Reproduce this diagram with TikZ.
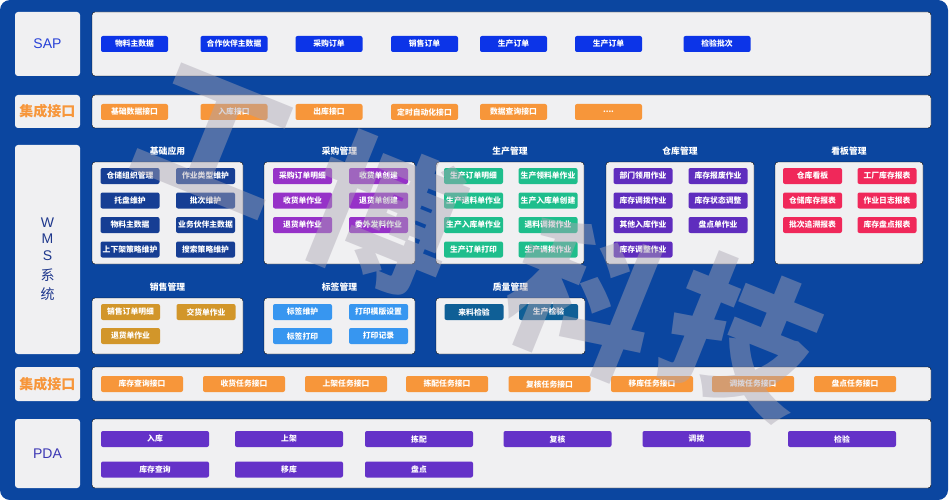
\documentclass[tikz,border=0pt]{standalone}
\usepackage{fontspec}
\setmainfont{Liberation Sans}
\newfontfamily\cjk{Noto Sans CJK SC}
\usepackage{tikz}

\definecolor{bgblue}{RGB}{11,70,160}
\definecolor{panelgray}{RGB}{240,240,242}
\definecolor{sapblue}{RGB}{12,52,232}
\definecolor{ifaceorange}{RGB}{247,150,58}
\definecolor{basenavy}{RGB}{22,62,148}
\definecolor{buymagenta}{RGB}{150,50,200}
\definecolor{prodgreen}{RGB}{30,190,140}
\definecolor{stockindigo}{RGB}{95,45,190}
\definecolor{boardred}{RGB}{240,40,90}
\definecolor{salesgold}{RGB}{210,150,42}
\definecolor{labelblue}{RGB}{55,150,240}
\definecolor{qualteal}{RGB}{15,95,150}
\definecolor{pdapurple}{RGB}{100,50,200}
\definecolor{saptext}{RGB}{40,65,215}
\definecolor{pdatext}{RGB}{60,55,180}
\definecolor{wmstext}{RGB}{30,55,140}
\definecolor{wmgray}{RGB}{170,165,178}

\tikzset{
  panel/.style={fill=panelgray, rounded corners=3pt},
  sidebox/.style={fill=panelgray, rounded corners=3pt, inner sep=0pt, minimum width=65},
  chip/.style={fill=#1, rounded corners=2pt, text=white, inner sep=0pt, minimum height=16,
    font=\cjk\bfseries\fontsize{7.8}{8}\selectfont},
  topchip/.style={chip=#1, minimum width=67},
  groupchip/.style={chip=#1, minimum width=59},
  taskchip/.style={chip=ifaceorange, minimum width=82},
  pdachip/.style={chip=pdapurple, minimum width=108},
  grouptitle/.style={text=white, font=\cjk\bfseries\fontsize{8.8}{9}\selectfont},
  ifacetitle/.style={text=ifaceorange, font=\cjk\bfseries\fontsize{14}{14}\selectfont},
  wmark/.style={text=wmgray, opacity=0.45, rotate=-22, font=\cjk\bfseries\fontsize{150}{150}\selectfont}
}

\begin{document}
\begin{tikzpicture}[x=1pt,y=1pt,yscale=-1]
\useasboundingbox (0,0) rectangle (950,500);
\fill[white] (0,0) rectangle (950,500);
\fill[bgblue, rounded corners=10pt] (0,0) rectangle (948,500);

%SAP row
\node[sidebox, minimum height=64, text=saptext, font=\fontsize{14}{14}\selectfont] (sap) at (47.5,44) {SAP};
\draw[panel] (92,12) rectangle (931,76);
\node[topchip=sapblue] (sap1) at (134.5,44) {物料主数据};
\node[topchip=sapblue] (sap2) at (234,44) {合作伙伴主数据};
\node[topchip=sapblue] (sap3) at (329,44) {采购订单};
\node[topchip=sapblue] (sap4) at (424.5,44) {销售订单};
\node[topchip=sapblue] (sap5) at (513.5,44) {生产订单};
\node[topchip=sapblue] (sap6) at (608.5,44) {生产订单};
\node[topchip=sapblue] (sap7) at (717,44) {检验批次};

%integration row (top)
\node[sidebox, minimum height=33, ifacetitle] (iftop) at (47.5,111.5) {集成接口};
\draw[panel] (92,95) rectangle (931,128);
\node[topchip=ifaceorange] (ift1) at (134.5,112) {基础数据接口};
\node[topchip=ifaceorange] (ift2) at (234,112) {入库接口};
\node[topchip=ifaceorange] (ift3) at (329,112) {出库接口};
\node[topchip=ifaceorange] (ift4) at (424.5,112) {定时自动化接口};
\node[topchip=ifaceorange] (ift5) at (513.5,112) {数据查询接口};
\node[topchip=ifaceorange] (ift6) at (608.5,112) {....};

%WMS
\node[sidebox, minimum height=209] (wms) at (47.5,249.5) {};
\node[text=wmstext, align=center, inner sep=0pt, font=\fontsize{14}{16.5}\selectfont] (wmsname) at (47.5,259)
  {W\\M\\S\\[4pt]{\cjk 系}\\[2pt]{\cjk 统}};

% Text Node
\node[grouptitle] (t1) at (167.5,151) {基础应用};
\node[grouptitle] (t2) at (339.5,151) {采购管理};
\node[grouptitle] (t3) at (510,151) {生产管理};
\node[grouptitle] (t4) at (680,151) {仓库管理};
\node[grouptitle] (t5) at (849,151) {看板管理};
\node[grouptitle] (t6) at (167.5,287) {销售管理};
\node[grouptitle] (t7) at (339.5,287) {标签管理};
\node[grouptitle] (t8) at (510.5,287) {质量管理};

\draw[panel] (92,162) rectangle (243,264);
\draw[panel] (264,162) rectangle (415,264);
\draw[panel] (436,162) rectangle (584,264);
\draw[panel] (606,162) rectangle (754,264);
\draw[panel] (775,162) rectangle (923,264);
\draw[panel] (92,298) rectangle (243,354);
\draw[panel] (264,298) rectangle (415,354);
\draw[panel] (436,298) rectangle (585,354);

%basic application
\node[groupchip=basenavy] (ba1) at (130,176) {仓储组织管理};
\node[groupchip=basenavy] (ba2) at (205.5,176) {作业类型维护};
\node[groupchip=basenavy] (ba3) at (130,200.5) {托盘维护};
\node[groupchip=basenavy] (ba4) at (205.5,200.5) {批次维护};
\node[groupchip=basenavy] (ba5) at (130,225) {物料主数据};
\node[groupchip=basenavy] (ba6) at (205.5,225) {业务伙伴主数据};
\node[groupchip=basenavy] (ba7) at (130,249.5) {上下架策略维护};
\node[groupchip=basenavy] (ba8) at (205.5,249.5) {搜索策略维护};

%purchasing
\node[groupchip=buymagenta] (pu1) at (302.5,176) {采购订单明细};
\node[groupchip=buymagenta] (pu2) at (378.5,176) {收货单创建};
\node[groupchip=buymagenta] (pu3) at (302.5,200.5) {收货单作业};
\node[groupchip=buymagenta] (pu4) at (378.5,200.5) {退货单创建};
\node[groupchip=buymagenta] (pu5) at (302.5,225) {退货单作业};
\node[groupchip=buymagenta] (pu6) at (378.5,225) {委外发料作业};

%production
\node[groupchip=prodgreen] (pr1) at (473.5,176) {生产订单明细};
\node[groupchip=prodgreen] (pr2) at (548,176) {生产领料单作业};
\node[groupchip=prodgreen] (pr3) at (473.5,200.5) {生产退料单作业};
\node[groupchip=prodgreen] (pr4) at (548,200.5) {生产入库单创建};
\node[groupchip=prodgreen] (pr5) at (473.5,225) {生产入库单作业};
\node[groupchip=prodgreen] (pr6) at (548,225) {退料调拨作业};
\node[groupchip=prodgreen] (pr7) at (473.5,249.5) {生产订单打印};
\node[groupchip=prodgreen] (pr8) at (548,249.5) {生产调拨作业};

%warehouse
\node[groupchip=stockindigo] (wh1) at (643,176) {部门领用作业};
\node[groupchip=stockindigo] (wh2) at (718,176) {库存报废作业};
\node[groupchip=stockindigo] (wh3) at (643,200.5) {库存调拨作业};
\node[groupchip=stockindigo] (wh4) at (718,200.5) {库存状态调整};
\node[groupchip=stockindigo] (wh5) at (643,225) {其他入库作业};
\node[groupchip=stockindigo] (wh6) at (718,225) {盘点单作业};
\node[groupchip=stockindigo] (wh7) at (643,249.5) {库存调整作业};

%board
\node[groupchip=boardred] (bd1) at (812.5,176) {仓库看板};
\node[groupchip=boardred] (bd2) at (887,176) {工厂库存报表};
\node[groupchip=boardred] (bd3) at (812.5,200.5) {仓储库存报表};
\node[groupchip=boardred] (bd4) at (887,200.5) {作业日志报表};
\node[groupchip=boardred] (bd5) at (812.5,225) {批次追溯报表};
\node[groupchip=boardred] (bd6) at (887,225) {库存盘点报表};

%sales
\node[groupchip=salesgold] (sa1) at (130.5,312) {销售订单明细};
\node[groupchip=salesgold] (sa2) at (206,312) {交货单作业};
\node[groupchip=salesgold] (sa3) at (130.5,336) {退货单作业};

%labels
\node[groupchip=labelblue] (lb1) at (302.5,312) {标签维护};
\node[groupchip=labelblue] (lb2) at (378.5,312) {打印模版设置};
\node[groupchip=labelblue] (lb3) at (302.5,336) {标签打印};
\node[groupchip=labelblue] (lb4) at (378.5,336) {打印记录};

%quality
\node[groupchip=qualteal] (qa1) at (474,312) {来料检验};
\node[groupchip=qualteal] (qa2) at (548.5,312) {生产检验};

%integration row (bottom)
\node[sidebox, minimum height=34, ifacetitle] (ifbot) at (47.5,384) {集成接口};
\draw[panel] (92,367) rectangle (931,401);
\node[taskchip] (ifb1) at (142,384) {库存查询接口};
\node[taskchip] (ifb2) at (244,384) {收货任务接口};
\node[taskchip] (ifb3) at (346,384) {上架任务接口};
\node[taskchip] (ifb4) at (447,384) {拣配任务接口};
\node[taskchip] (ifb5) at (549.5,384) {复核任务接口};
\node[taskchip] (ifb6) at (652,384) {移库任务接口};
\node[taskchip] (ifb7) at (753,384) {调拨任务接口};
\node[taskchip] (ifb8) at (855,384) {盘点任务接口};

%PDA
\node[sidebox, minimum height=69, text=pdatext, font=\fontsize{14}{14}\selectfont] (pda) at (47.5,453.5) {PDA};
\draw[panel] (92,419) rectangle (931,488);
\node[pdachip] (pd1) at (155,439) {入库};
\node[pdachip] (pd2) at (289,439) {上架};
\node[pdachip] (pd3) at (419,439) {拣配};
\node[pdachip] (pd4) at (557.5,439) {复核};
\node[pdachip] (pd5) at (696.5,439) {调拨};
\node[pdachip] (pd6) at (842,439) {检验};
\node[pdachip] (pd7) at (155,469.5) {库存查询};
\node[pdachip] (pd8) at (289,469.5) {移库};
\node[pdachip] (pd9) at (419,469.5) {盘点};

%watermark
\node[wmark] (wm1) at (215,140) {工};
\node[wmark] (wm2) at (385,215) {博};
\node[wmark] (wm3) at (585,298) {科};
\node[wmark] (wm4) at (742,337) {技};

\end{tikzpicture}
\end{document}
